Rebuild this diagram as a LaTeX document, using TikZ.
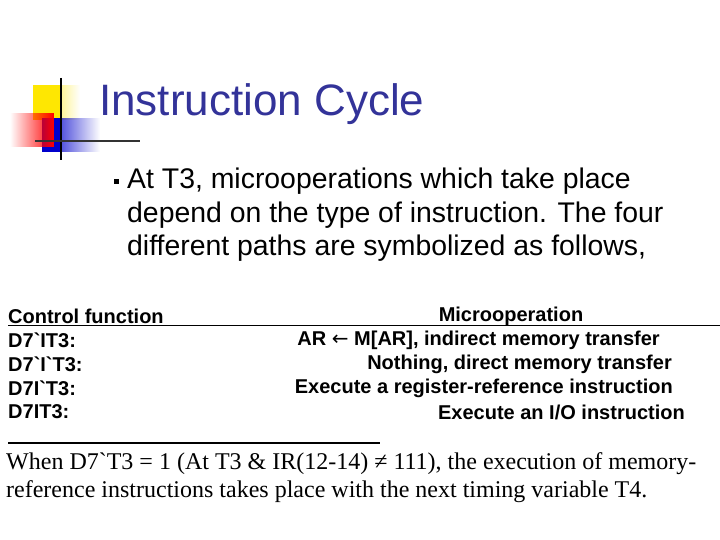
\documentclass[tikz,border=0pt]{standalone}
\usepackage{fontspec}
\setmainfont{Liberation Sans}
\newfontfamily\serifx{Liberation Serif}
\newfontfamily\symf{DejaVu Sans}
\usetikzlibrary{fadings}
\definecolor{titleblue}{RGB}{51,51,153}
\newcommand{\gr}{\textasciigrave}
\begin{document}
\begin{tikzpicture}[x=1pt,y=-1pt,
  tbl/.style={font=\bfseries\fontsize{20}{22}\selectfont,inner sep=0pt},
  body/.style={font=\fontsize{28.4}{32}\selectfont,inner sep=0pt,anchor=west},
  foot/.style={font=\serifx\fontsize{24}{28}\selectfont,inner sep=0pt,anchor=west}]
\useasboundingbox[fill=white] (0,0) rectangle (720,540);
% logo
\fill[yellow!90!orange,path fading=east] (33,85) rectangle (80,120);
\fill[yellow!90!orange] (33,85) rectangle (62,120);
\fill[blue!80!black,path fading=east] (42,118) rectangle (100,152);
\fill[blue!80!black] (42,118) rectangle (60,152);
\fill[red,path fading=west] (10,113) rectangle (54,147);
\draw[line width=2pt] (61,78) -- (61,160);
\draw[line width=1.5pt,black!80] (35,141) -- (140,141);
% title
\node[anchor=west,inner sep=0pt,text=titleblue,font=\fontsize{44}{50}\selectfont] (title) at (99,104) {Instruction Cycle};
% bullet
\node[fill=black,minimum size=5pt,inner sep=0pt] (bul) at (116,182) {};
\node[body] (l1) at (127,181) {At T3, microoperations which take place};
\node[body] (l2) at (127,215) {depend on the type of instruction. The four};
\node[body] (l3) at (127,248) {different paths are symbolized as follows,};
% table
\node[tbl,anchor=west] (h1) at (8,316) {Control function};
\node[tbl] (h2) at (511,316) {Microoperation};
\draw[line width=1pt] (8,325) -- (720,325);
\node[tbl,anchor=west] (c1) at (8,340) {D7\gr IT3:};
\node[tbl,anchor=west] (c2) at (8,364) {D7\gr I\gr T3:};
\node[tbl,anchor=west] (c3) at (8,388) {D7I\gr T3:};
\node[tbl,anchor=west] (c4) at (8,412) {D7IT3:};
\node[tbl,anchor=east] (m1) at (660,340) {AR {\symf\mdseries ←} M[AR], indirect memory transfer};
\node[tbl,anchor=east] (m2) at (672,364) {Nothing, direct memory transfer};
\node[tbl,anchor=east] (m3) at (673,388) {Execute a register-reference instruction};
\node[tbl,anchor=east] (m4) at (685,412) {Execute an I/O instruction};
\draw[line width=2pt] (8,443) -- (380,443);
\node[foot] (f1) at (6,464) {When D7\gr T3 = 1 (At T3 \& IR(12-14) ≠ 111), the execution of memory-};
\node[foot] (f2) at (6,492) {reference instructions takes place with the next timing variable T4.};
\end{tikzpicture}
\end{document}
